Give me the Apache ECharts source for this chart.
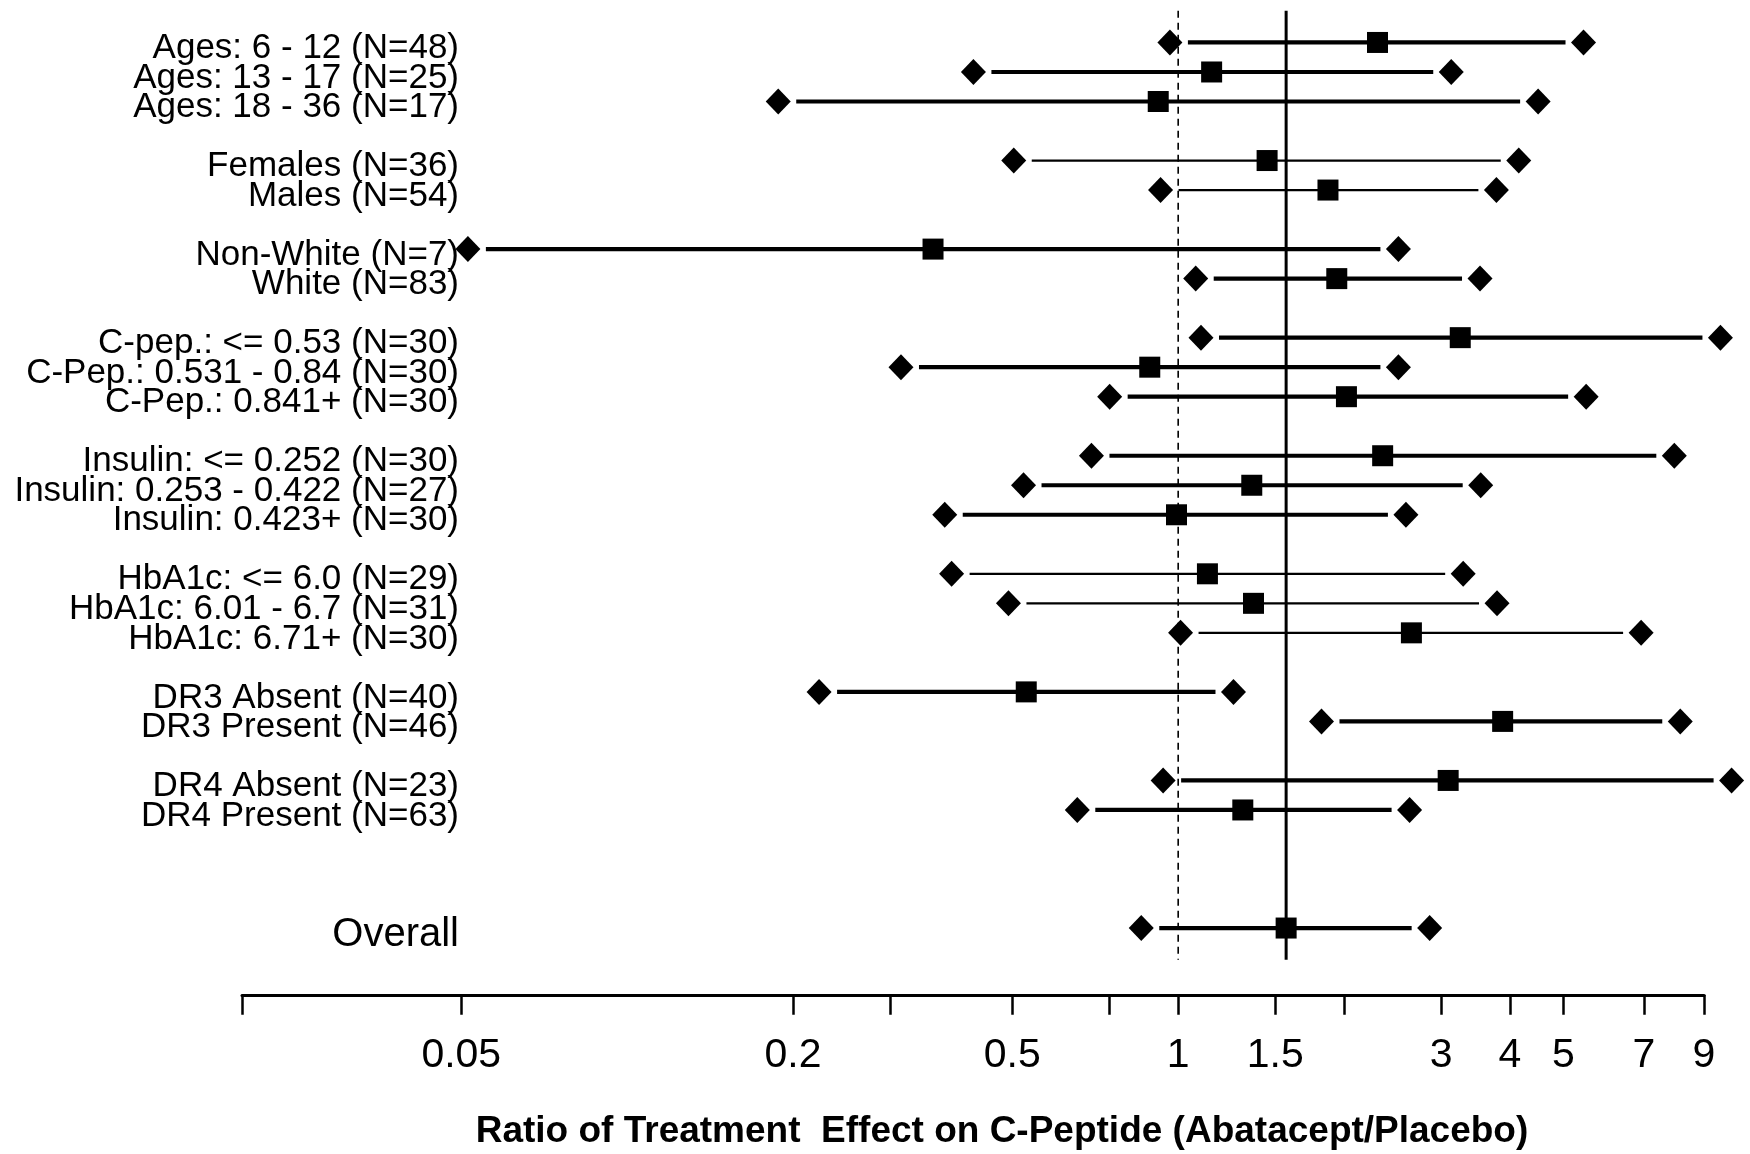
<!DOCTYPE html>
<html lang="en">
<head>
    <meta charset="UTF-8">
    <title>Ratio of Treatment Effect on C-Peptide</title>
    <script src="https://cdn.jsdelivr.net/npm/echarts@6.0.0/dist/echarts.min.js"></script>
    <style>
        body {
            margin: 0;
            background-color: #fff;
        }

        #chart {
            width: 1750px;
            height: 1154px;
        }
    </style>
</head>
<body>
    <div id="chart"></div>

    <script>
        // subgroups, top to bottom
        const subgroups = [
            'Ages: 6 - 12 (N=48)', 'Ages: 13 - 17 (N=25)', 'Ages: 18 - 36 (N=17)',
            'Females (N=36)', 'Males (N=54)',
            'Non-White (N=7)', 'White (N=83)',
            'C-pep.: <= 0.53 (N=30)', 'C-Pep.: 0.531 - 0.84 (N=30)', 'C-Pep.: 0.841+ (N=30)',
            'Insulin: <= 0.252 (N=30)', 'Insulin: 0.253 - 0.422 (N=27)', 'Insulin: 0.423+ (N=30)',
            'HbA1c: <= 6.0 (N=29)', 'HbA1c: 6.01 - 6.7 (N=31)', 'HbA1c: 6.71+ (N=30)',
            'DR3 Absent (N=40)', 'DR3 Present (N=46)',
            'DR4 Absent (N=23)', 'DR4 Present (N=63)',
            'Overall'
        ];
        const ratio = [2.30, 1.15, 0.92, 1.45, 1.87, 0.359, 1.94, 3.25, 0.888, 2.02, 2.35, 1.36, 0.993, 1.13, 1.37, 2.65, 0.530, 3.88, 3.09, 1.31, 1.57];
        const lower = [0.966, 0.425, 0.188, 0.503, 0.929, 0.0514, 1.076, 1.10, 0.314, 0.751, 0.696, 0.524, 0.377, 0.388, 0.492, 1.01, 0.223, 1.82, 0.939, 0.656, 0.857];
        const upper = [5.44, 3.13, 4.50, 4.15, 3.78, 2.51, 3.53, 9.64, 2.51, 5.50, 7.95, 3.54, 2.59, 3.29, 3.79, 6.92, 1.26, 8.15, 10.1, 2.63, 2.86];

        // x axis ticks (log scale)
        const tickValues = [0.02, 0.05, 0.2, 0.3, 0.5, 0.75, 1, 1.5, 2, 3, 4, 5, 7, 9];
        const tickLabels = ['', '0.05', '0.2', '', '0.5', '', '1', '1.5', '', '3', '4', '5', '7', '9'];

        // layout: blank lines after some rows, thin CI lines for some rows
        const blanksAfter = {2: 1, 4: 1, 6: 1, 9: 1, 12: 1, 15: 1, 17: 1, 19: 3};
        const thinRows = [3, 4, 13, 14, 15];

        const lg = v => Math.log10(v);
        const overallIdx = subgroups.length - 1;
        const font = 'Liberation Sans, Arial, sans-serif';

        // build the category rows with blank spacer lines
        const rows = [];
        const rowOf = [];
        subgroups.forEach((name, i) => {
            rowOf.push(rows.length);
            if (name === 'Overall') {
                rows.push({
                    value: name,
                    textStyle: { fontSize: 40, verticalAlign: 'top', lineHeight: 14, color: '#000', fontFamily: font }
                });
            } else {
                rows.push(name);
            }
            for (let k = 0; k < (blanksAfter[i] || 0); k++) rows.push('');
        });

        const ciData = subgroups.map((n, i) => [lg(lower[i]), lg(upper[i]), rowOf[i], thinRows.includes(i) ? 1 : 0]);
        const endData = [];
        subgroups.forEach((n, i) => {
            endData.push([lg(lower[i]), rowOf[i]]);
            endData.push([lg(upper[i]), rowOf[i]]);
        });
        const estData = subgroups.map((n, i) => [lg(ratio[i]), rowOf[i]]);
        const refData = [[lg(1), 1], [lg(ratio[overallIdx]), 0]];

        const chart = echarts.init(document.getElementById('chart'));
        const option = {
            backgroundColor: '#fff',
            animation: false,
            grid: {
                left: 242,
                right: 46,
                top: 27.7,
                bottom: 211.2,
                outerBoundsMode: 'none'
            },
            xAxis: {
                type: 'value',
                min: lg(0.02),
                max: lg(9),
                offset: 52,
                splitLine: { show: false },
                axisLine: { show: true, lineStyle: { color: '#000', width: 3 } },
                axisTick: {
                    show: true,
                    customValues: tickValues.map(lg),
                    length: 20,
                    lineStyle: { color: '#000', width: 2.5 }
                },
                axisLabel: {
                    customValues: tickValues.map(lg),
                    formatter: v => {
                        const i = tickValues.findIndex(t => Math.abs(lg(t) - v) < 1e-6);
                        return i >= 0 ? tickLabels[i] : '';
                    },
                    margin: 40,
                    color: '#000',
                    fontSize: 41,
                    fontFamily: font
                },
                name: 'Ratio of Treatment  Effect on C-Peptide (Abatacept/Placebo)',
                nameLocation: 'middle',
                nameGap: 118,
                nameTextStyle: {
                    color: '#000',
                    fontSize: 37,
                    fontWeight: 'bold',
                    fontFamily: font,
                    padding: [0, 0, 0, 58]
                }
            },
            yAxis: {
                type: 'category',
                data: rows,
                inverse: true,
                offset: -217,
                axisLine: { show: false },
                axisTick: { show: false },
                splitLine: { show: false },
                axisLabel: {
                    margin: 0,
                    interval: 0,
                    verticalAlign: 'top',
                    lineHeight: 12,
                    color: '#000',
                    fontSize: 35,
                    fontFamily: font
                }
            },
            series: [
                {
                    // reference lines: no effect (dashed) and overall estimate (solid)
                    type: 'custom',
                    clip: false,
                    data: refData,
                    renderItem: (params, api) => {
                        const cs = params.coordSys;
                        const x = api.coord([api.value(0), 0])[0];
                        const dashed = api.value(1) === 1;
                        return {
                            type: 'line',
                            shape: { x1: x, y1: cs.y - 17, x2: x, y2: cs.y + cs.height + 17 },
                            style: {
                                stroke: '#000',
                                lineWidth: dashed ? 1.6 : 3,
                                lineDash: dashed ? [7, 5] : null
                            }
                        };
                    }
                },
                {
                    // confidence interval lines
                    type: 'custom',
                    clip: false,
                    data: ciData,
                    encode: { x: [0, 1], y: 2 },
                    renderItem: (params, api) => {
                        const a = api.coord([api.value(0), api.value(2)]);
                        const b = api.coord([api.value(1), api.value(2)]);
                        return {
                            type: 'line',
                            shape: { x1: a[0] + 18, y1: a[1], x2: b[0] - 18, y2: b[1] },
                            style: { stroke: '#000', lineWidth: api.value(3) ? 2.2 : 4.2 }
                        };
                    }
                },
                {
                    // interval ends
                    type: 'scatter',
                    clip: false,
                    data: endData,
                    symbol: 'diamond',
                    symbolSize: [25, 26],
                    itemStyle: { color: '#000', opacity: 1 }
                },
                {
                    // point estimates
                    type: 'scatter',
                    clip: false,
                    data: estData,
                    symbol: 'rect',
                    symbolSize: 21,
                    itemStyle: { color: '#000', opacity: 1 }
                }
            ]
        };
        chart.setOption(option);
    </script>
</body>
</html>
